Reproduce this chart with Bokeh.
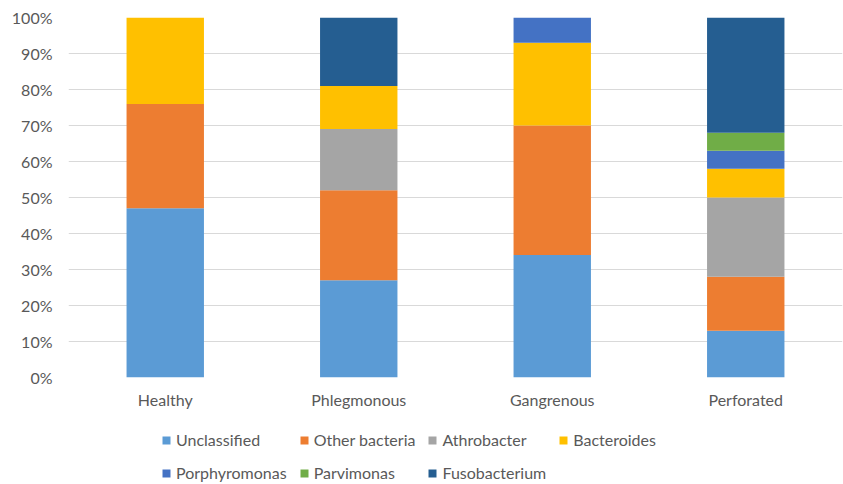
from bokeh.plotting import figure
from bokeh.layouts import column
from bokeh.models import ColumnDataSource, FactorRange, Range1d, FixedTicker, PrintfTickFormatter, Legend, LegendItem
from bokeh.embed import file_html
from bokeh.resources import INLINE

categories = ["Healthy", "Phlegmonous", "Gangrenous", "Perforated"]
series = ["Unclassified", "Other bacteria", "Athrobacter", "Bacteroides",
          "Porphyromonas", "Parvimonas", "Fusobacterium"]
unclassified = [47, 27, 34, 13]
other_bacteria = [29, 25, 36, 15]
athrobacter = [0, 17, 0, 22]
bacteroides = [24, 12, 23, 8]
porphyromonas = [0, 0, 7, 5]
parvimonas = [0, 0, 0, 5]
fusobacterium = [0, 19, 0, 32]
colors = ["#5B9BD5", "#ED7D31", "#A5A5A5", "#FFC000", "#4472C4", "#70AD47", "#255E91"]
y_ticks = [0, 10, 20, 30, 40, 50, 60, 70, 80, 90, 100]

source = ColumnDataSource(dict(
    cat=categories,
    **{
        "Unclassified": unclassified,
        "Other bacteria": other_bacteria,
        "Athrobacter": athrobacter,
        "Bacteroides": bacteroides,
        "Porphyromonas": porphyromonas,
        "Parvimonas": parvimonas,
        "Fusobacterium": fusobacterium,
    }
))

FONT = "Lato"
TXT = "#595959"

# ---- main chart ----
p = figure(width=843, height=420, output_backend="svg", toolbar_location=None,
           x_range=FactorRange(*categories, range_padding=0),
           y_range=Range1d(0, 100),
           min_border_left=68, min_border_right=1, min_border_top=17, min_border_bottom=43)
p.outline_line_color = None
p.background_fill_color = "white"
p.border_fill_color = "white"

p.vbar_stack(series, x="cat", width=0.4, source=source, color=colors, line_color=None)

p.yaxis.ticker = FixedTicker(ticks=y_ticks)
p.yaxis.formatter = PrintfTickFormatter(format="%d%%")
p.ygrid.ticker = FixedTicker(ticks=y_ticks)
p.ygrid.grid_line_color = "#D9D9D9"
p.ygrid.grid_line_width = 1
p.xgrid.grid_line_color = None

for ax in (p.xaxis, p.yaxis):
    ax.axis_line_color = None
    ax.major_tick_line_color = None
    ax.minor_tick_line_color = None
    ax.major_tick_out = 0
    ax.major_tick_in = 0
    ax.minor_tick_out = 0
    ax.major_label_text_font = FONT
    ax.major_label_text_font_size = "16px"
    ax.major_label_text_color = TXT
p.yaxis.major_label_standoff = 16
p.xaxis.major_label_standoff = 12

# ---- legend strip ----
lg = figure(width=843, height=64, output_backend="svg", toolbar_location=None,
            x_range=FactorRange(*categories, range_padding=0),
            y_range=Range1d(1000, 1001), x_axis_type=None, y_axis_type=None,
            min_border_left=0, min_border_right=0, min_border_top=0, min_border_bottom=0)
lg.outline_line_color = None
lg.grid.grid_line_color = None
lg.border_fill_color = "white"
leg_renderers = lg.vbar_stack(series, x="cat", width=0.4, source=source, color=colors, line_color=None)

items = [LegendItem(label=s, renderers=[r]) for s, r in zip(series, leg_renderers)]
legend = Legend(items=items, location=(93, 1), orientation="horizontal", ncols=4,
                glyph_width=10, glyph_height=10, label_standoff=5, spacing=12,
                label_height=21, padding=0, margin=0,
                label_text_font=FONT, label_text_font_size="16px", label_text_color=TXT,
                background_fill_alpha=0, border_line_color=None)
lg.add_layout(legend, "center")

layout = column(p, lg, spacing=0)
open("out.html", "w").write(file_html(layout, INLINE))
